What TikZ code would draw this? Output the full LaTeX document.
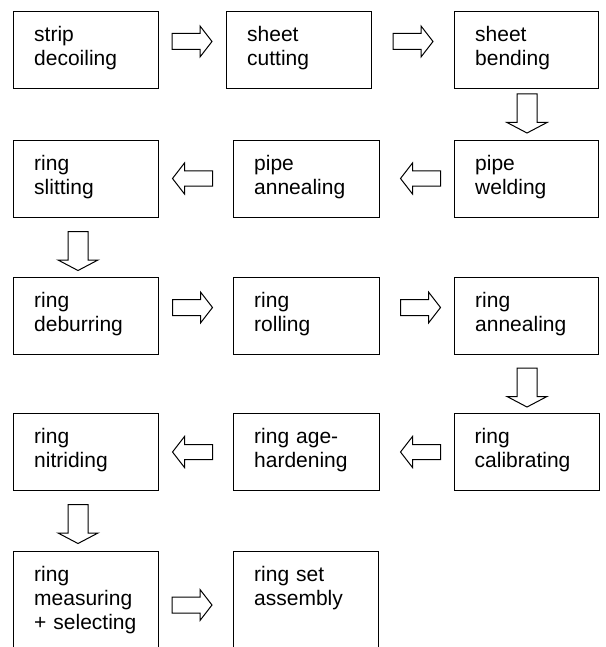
\documentclass[tikz,border=0pt]{standalone}
\usepackage{fontspec}
\setmainfont{Liberation Sans}
\begin{document}
\begin{tikzpicture}[x=1pt,y=-1pt,
  box/.style={draw, line width=1.2pt, anchor=north west, minimum width=145pt, minimum height=77pt, inner sep=0pt},
  lbl/.style={anchor=base west, inner sep=0pt, text width=135pt, align=left, font=\fontsize{21}{24}\selectfont},
  blk/.style={draw, line width=1pt, fill=white, line join=miter},
  pics/rarr/.style={code={\draw[blk] (-20,-8) -- (8,-8) -- (8,-15.5) -- (20,0) -- (8,15.5) -- (8,8) -- (-20,8) -- cycle;}},
  pics/larr/.style={code={\draw[blk] (20,-7.5) -- (-8,-7.5) -- (-8,-15.5) -- (-20,0) -- (-8,15.5) -- (-8,7.5) -- (20,7.5) -- cycle;}},
  pics/darr/.style={code={\draw[blk] (-10,-19.5) -- (-10,9) -- (-20,9) -- (0,19.5) -- (20,9) -- (10,9) -- (10,-19.5) -- cycle;}}
]
\useasboundingbox (0,0) rectangle (605,647);
\clip (0,0) rectangle (605,647);
% row 1
\node[box] (a1) at (13,11) {};
\node[box] (a2) at (226,11) {};
\node[box, minimum width=144pt] (a3) at (454,11) {};
% row 2
\node[box] (b1) at (13,140) {};
\node[box, minimum width=146pt] (b2) at (233,140) {};
\node[box, minimum width=144pt] (b3) at (454,140) {};
% row 3
\node[box] (c1) at (13,277) {};
\node[box, minimum width=146pt] (c2) at (233,277) {};
\node[box, minimum width=144pt] (c3) at (454,277) {};
% row 4
\node[box] (d1) at (13,413) {};
\node[box, minimum width=146pt] (d2) at (233,413) {};
\node[box, minimum width=145pt] (d3) at (453.5,413) {};
% row 5
\node[box, minimum height=120pt] (e1) at (13,551) {};
\node[box, minimum width=145pt, minimum height=120pt] (e2) at (233,551) {};
% labels
\path (a1.north west) ++(21,30.5) node[lbl] (a1t) {strip\\decoiling};
\path (a2.north west) ++(21,30.5) node[lbl] (a2t) {sheet\\cutting};
\path (a3.north west) ++(21,30.5) node[lbl] (a3t) {sheet\\bending};
\path (b1.north west) ++(21,30.5) node[lbl] (b1t) {ring\\slitting};
\path (b2.north west) ++(21,30.5) node[lbl] (b2t) {pipe\\annealing};
\path (b3.north west) ++(21,30.5) node[lbl] (b3t) {pipe\\welding};
\path (c1.north west) ++(21,30.5) node[lbl] (c1t) {ring\\deburring};
\path (c2.north west) ++(21,30.5) node[lbl] (c2t) {ring\\rolling};
\path (c3.north west) ++(21,30.5) node[lbl] (c3t) {ring\\annealing};
\path (d1.north west) ++(21,30.5) node[lbl] (d1t) {ring\\nitriding};
\path (d2.north west) ++(21,30.5) node[lbl] (d2t) {ring age-\\hardening};
\path (d3.north west) ++(21,30.5) node[lbl] (d3t) {ring\\calibrating};
\path (e1.north west) ++(21,30.5) node[lbl] (e1t) {ring\\measuring\\+ selecting};
\path (e2.north west) ++(21,30.5) node[lbl] (e2t) {ring set\\assembly};
% arrows
\pic (p1) at (192,41.5) {rarr};
\pic (p2) at (413,41.5) {rarr};
\pic (p3) at (527,113.5) {darr};
\pic (p4) at (420.5,178.5) {larr};
\pic (p5) at (192.5,178.5) {larr};
\pic (p6) at (78,251) {darr};
\pic (p7) at (192.5,307.5) {rarr};
\pic (p8) at (420.5,307.5) {rarr};
\pic (p9) at (527,387.5) {darr};
\pic (p10) at (420.5,452) {larr};
\pic (p11) at (192.5,452) {larr};
\pic (p12) at (78,524) {darr};
\pic (p13) at (192,605) {rarr};
\end{tikzpicture}
\end{document}
